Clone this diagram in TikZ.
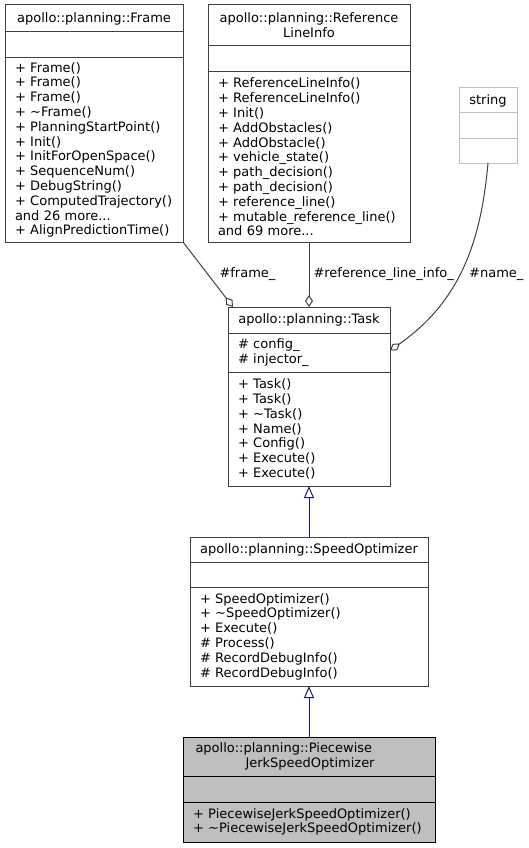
\documentclass[tikz,border=0pt]{standalone}
\usepackage{fontspec}
\setmainfont{DejaVu Sans}
\usetikzlibrary{arrows.meta,positioning}

\definecolor{edgegray}{HTML}{404040}
\definecolor{basenavy}{HTML}{191970}
\definecolor{boxgray}{HTML}{BFBFBF}

\begin{document}
\begin{tikzpicture}[x = 1pt, y = -1pt, font = \fontsize{13}{14.8}\selectfont]
    \tikzset{
      box/.style = {draw = edgegray, line width = 1pt, rectangle, inner sep = 0pt, outer sep = 0pt, anchor = north west},
      head/.style = {box, align = center, minimum height = 26pt},
      slot/.style = {box, align = left, inner xsep = 10pt, minimum height = 26pt, below = 0pt of #1,
                     execute at begin node = {\hyphenpenalty = 10000 \exhyphenpenalty = 10000}},
      wide/.style = {minimum width = #1, text width = #1 - 20pt},
      inherit/.style = {draw = basenavy, line width = 1pt, -{Triangle[open, length = 12pt, width = 10pt]}},
      aggregate/.style = {draw = edgegray, line width = 1pt, -{Diamond[open, length = 12pt, width = 8pt]}},
      role/.style = {inner sep = 0pt, anchor = west},
    }

    \useasboundingbox (0, 0) rectangle (529, 848);

    % Frame
    \node[head, minimum width = 178pt, minimum height = 27pt] (frame) at (5, 5) {apollo::planning::Frame};
    \node[slot = frame, wide = 178pt] (frameattr) {};
    \node[slot = frameattr, wide = 178pt, minimum height = 184pt] (frameops) {+ Frame()\\+ Frame()\\+ Frame()\\+ \textasciitilde Frame()\\+ PlanningStartPoint()\\+ Init()\\+ InitForOpenSpace()\\+ SequenceNum()\\+ DebugString()\\+ ComputedTrajectory()\\and 26 more...\\+ AlignPredictionTime()};

    % ReferenceLineInfo
    \node[head, minimum width = 202pt, minimum height = 41pt] (refinfo) at (208, 5) {apollo::planning::Reference\\LineInfo};
    \node[slot = refinfo, wide = 202pt] (refinfoattr) {};
    \node[slot = refinfoattr, wide = 202pt, minimum height = 170pt] (refinfoops) {+ ReferenceLineInfo()\\+ ReferenceLineInfo()\\+ Init()\\+ AddObstacles()\\+ AddObstacle()\\+ vehicle\_state()\\+ path\_decision()\\+ path\_decision()\\+ reference\_line()\\+ mutable\_reference\_line()\\and 69 more...};

    % string
    \node[head, draw = boxgray, minimum width = 58pt, minimum height = 25pt] (string) at (459, 88) {string};
    \node[slot = string, draw = boxgray, wide = 58pt, minimum height = 25pt] (stringattr) {};
    \node[slot = stringattr, draw = boxgray, wide = 58pt, minimum height = 25pt] (stringops) {};

    % Task
    \node[head, minimum width = 162pt] (task) at (228, 307) {apollo::planning::Task};
    \node[slot = task, wide = 162pt, minimum height = 39pt] (taskattr) {\# config\_\\\# injector\_};
    \node[slot = taskattr, wide = 162pt, minimum height = 114pt] (taskops) {+ Task()\\+ Task()\\+ \textasciitilde Task()\\+ Name()\\+ Config()\\+ Execute()\\+ Execute()};

    % SpeedOptimizer
    \node[head, minimum width = 238pt, minimum height = 25pt] (speed) at (190, 537) {apollo::planning::SpeedOptimizer};
    \node[slot = speed, wide = 238pt, minimum height = 25pt] (speedattr) {};
    \node[slot = speedattr, wide = 238pt, minimum height = 99pt] (speedops) {+ SpeedOptimizer()\\+ \textasciitilde SpeedOptimizer()\\+ Execute()\\\# Process()\\\# RecordDebugInfo()\\\# RecordDebugInfo()};

    % PiecewiseJerkSpeedOptimizer
    \node[head, draw = black, fill = boxgray, align = left, text width = 227pt, minimum width = 252pt, minimum height = 39pt] (piece) at (183, 737) {apollo::planning::Piecewise\\\hspace*{50pt}JerkSpeedOptimizer};
    \node[slot = piece, draw = black, fill = boxgray, wide = 252pt] (pieceattr) {};
    \node[slot = pieceattr, draw = black, fill = boxgray, wide = 252pt, minimum height = 40pt] (pieceops) {+ PiecewiseJerkSpeedOptimizer()\\+ \textasciitilde PiecewiseJerkSpeedOptimizer()};

    % members
    \draw[aggregate] (frameops.south east) -- node[role, pos = .5, xshift = 11pt] {\#frame\_} ([xshift = 5pt]task.north west);
    \draw[aggregate] (refinfoops.south) -- node[role, pos = .5, xshift = 4pt] {\#reference\_line\_info\_} (task.north);
    \draw[aggregate] (stringops.south) to[out = -95, in = 35] node[role, pos = .5, xshift = 7pt, yshift = -4pt] {\#name\_} ([yshift = 2pt]taskattr.east);

    % inheritance
    \draw[inherit] (speed.north) -- (taskops.south);
    \draw[inherit] (piece.north) -- (speedops.south);
\end{tikzpicture}
\end{document}
